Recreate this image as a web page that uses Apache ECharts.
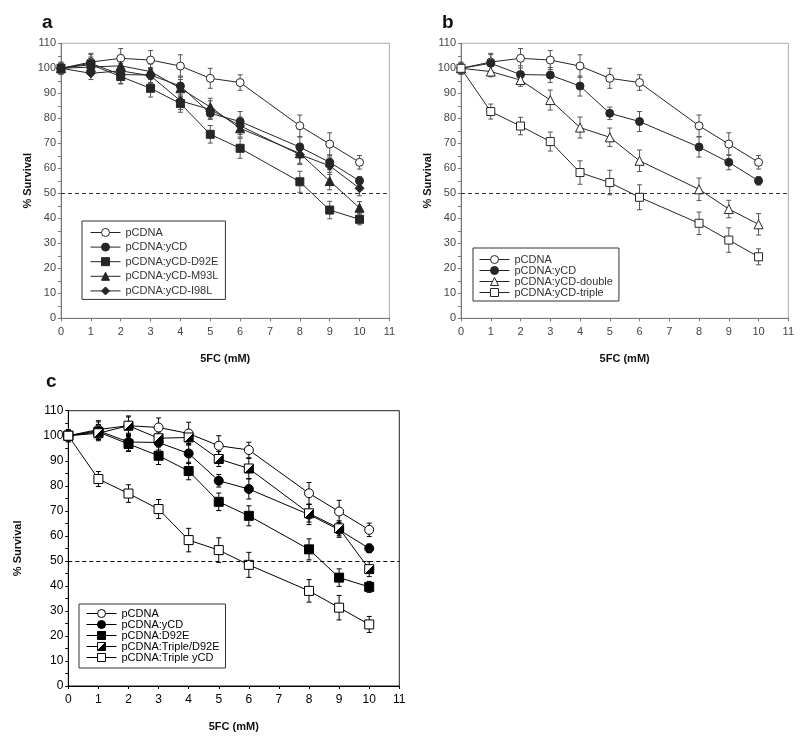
<!DOCTYPE html>
<html><head><meta charset="utf-8">
<script src="https://cdn.jsdelivr.net/npm/echarts@6/dist/echarts.min.js"></script>
<style>html,body{margin:0;padding:0;background:#fff}#c{width:806px;height:738px}</style>
</head><body><div id="c"></div>
<script>
// ---- data ----
const doses = [0, 1, 2, 3, 4, 5, 6, 8, 9, 10];               // 5FC (mM)
const yTickLabels = [0, 10, 20, 30, 40, 50, 60, 70, 80, 90, 100, 110];
const xTickLabels = [0, 1, 2, 3, 4, 5, 6, 7, 8, 9, 10, 11];
const threshold = 50;

const pcdna      = [100, 102.5, 104, 103.3, 100.9, 96, 94.3, 77, 69.7, 62.4];
const pcdnaErr   = [2.5, 3.5, 3.9, 3.8, 4.5, 4, 3.1, 4.3, 4.5, 2.7];
const ycd        = [100, 102, 97.5, 97.3, 92.9, 82, 78.7, 68.5, 62.4, 55];
const ycdErr     = [2, 3.5, 3.5, 3, 4, 2.5, 4, 4, 3, 1.7];
const d92e       = [100, 101.5, 96.7, 92, 85.9, 73.6, 68, 54.6, 43.3, 39.6];
const d92eErr    = [2, 3, 3, 3.5, 3.5, 3.5, 4, 4.2, 3.5, 2.2];
const m93l       = [100, 100.5, 101, 98.7, 92, 84.5, 76, 66, 54.9, 44.2];
const m93lErr    = [2, 3, 3, 3, 3.5, 3.5, 3.5, 4, 3.5, 2.5];
const i98l       = [100, 98, 99, 97, 87, 83.5, 77, 65.5, 61, 52];
const i98lErr    = [2, 2.5, 3, 3, 3.5, 3.5, 3.5, 4, 3.5, 3];
const double     = [100, 98.7, 95.3, 87.3, 76.3, 72.4, 63, 51.6, 43.7, 37.6];
const doubleErr  = [2, 2.1, 2.5, 4, 4.2, 3.7, 4.3, 4.5, 3.5, 4.3];
const triple     = [100, 82.7, 76.9, 70.7, 58.3, 54.3, 48.4, 38, 31.3, 24.6];
const tripleErr  = [2, 3, 3.5, 3.8, 4.7, 4.9, 5, 4.5, 4.9, 3.2];
const tripleD92e    = [100, 101, 104, 99, 99.3, 90.7, 86.9, 69, 63, 46.7];
const tripleD92eErr = [2, 3, 3.5, 2.5, 3, 3, 4, 3.5, 3, 3];

// ---- helpers ----
const FONT = '"Liberation Sans", Arial, Helvetica, sans-serif';
const pairs = vals => doses.map((d, i) => [d, vals[i]]);
const errData = (vals, errs) => doses.map((d, i) => [d, vals[i] - errs[i], vals[i] + errs[i]]);

function errSeries(idx, vals, errs, color) {
  return {
    type: 'custom', xAxisIndex: idx, yAxisIndex: idx, z: 1, silent: true,
    data: errData(vals, errs),
    renderItem: (params, api) => {
      const x = api.value(0);
      const t = api.coord([x, api.value(2)]);
      const b = api.coord([x, api.value(1)]);
      const w = 2.5;
      const st = { stroke: color, lineWidth: 1 };
      return { type: 'group', children: [
        { type: 'line', shape: { x1: t[0], y1: t[1], x2: b[0], y2: b[1] }, style: st },
        { type: 'line', shape: { x1: t[0] - w, y1: t[1], x2: t[0] + w, y2: t[1] }, style: st },
        { type: 'line', shape: { x1: b[0] - w, y1: b[1], x2: b[0] + w, y2: b[1] }, style: st }
      ]};
    }
  };
}
const halfFill = { type: 'linear', x: 0, y: 0, x2: 1, y2: 1, colorStops: [
  { offset: 0, color: '#fff' }, { offset: 0.5, color: '#fff' },
  { offset: 0.5, color: '#000' }, { offset: 1, color: '#000' }] };

function lineSeries(idx, key, vals, symbol, fill, stroke, size) {
  return {
    type: 'line', name: key, xAxisIndex: idx, yAxisIndex: idx, z: 2,
    data: pairs(vals), symbol: symbol, symbolSize: size, showAllSymbol: true,
    itemStyle: { color: fill, borderColor: stroke, borderWidth: 1 },
    lineStyle: { color: stroke, width: 1 },
    emphasis: { disabled: true }
  };
}

const series = [];
const A = '#262626', C = '#000';
const EA = '#555';
// panel a
[[pcdna, pcdnaErr], [ycd, ycdErr], [d92e, d92eErr], [m93l, m93lErr], [i98l, i98lErr]].forEach(p => series.push(errSeries(0, p[0], p[1], EA)));
series.push(lineSeries(0, 'a|pCDNA', pcdna, 'circle', '#fff', A, 8));
series.push(lineSeries(0, 'a|pCDNA:yCD', ycd, 'circle', A, A, 8));
series.push(lineSeries(0, 'a|pCDNA:yCD-D92E', d92e, 'rect', A, A, 8));
series.push(lineSeries(0, 'a|pCDNA:yCD-M93L', m93l, 'triangle', A, A, 9));
series.push(lineSeries(0, 'a|pCDNA:yCD-I98L', i98l, 'diamond', A, A, 9));
series[series.length - 1].markLine = { silent: true, symbol: 'none', label: { show: false },
  lineStyle: { type: [4, 3], color: '#333', width: 1 }, data: [{ yAxis: threshold }] };
// panel b
[[pcdna, pcdnaErr], [ycd, ycdErr], [double, doubleErr], [triple, tripleErr]].forEach(p => series.push(errSeries(1, p[0], p[1], EA)));
series.push(lineSeries(1, 'b|pCDNA', pcdna, 'circle', '#fff', A, 8));
series.push(lineSeries(1, 'b|pCDNA:yCD', ycd, 'circle', A, A, 8));
series.push(lineSeries(1, 'b|pCDNA:yCD-double', double, 'triangle', '#fff', A, 9));
series.push(lineSeries(1, 'b|pCDNA:yCD-triple', triple, 'rect', '#fff', A, 8));
series[series.length - 1].markLine = { silent: true, symbol: 'none', label: { show: false },
  lineStyle: { type: [4, 3], color: '#333', width: 1 }, data: [{ yAxis: threshold }] };
// panel c
[[pcdna, pcdnaErr], [ycd, ycdErr], [d92e, d92eErr], [tripleD92e, tripleD92eErr], [triple, tripleErr]].forEach(p => series.push(errSeries(2, p[0], p[1], C)));
series.push(lineSeries(2, 'c|pCDNA', pcdna, 'circle', '#fff', C, 9));
series.push(lineSeries(2, 'c|pCDNA:yCD', ycd, 'circle', C, C, 9));
series.push(lineSeries(2, 'c|pCDNA:D92E', d92e, 'rect', C, C, 9));
series.push(lineSeries(2, 'c|pCDNA:Triple/D92E', tripleD92e, 'rect', halfFill, C, 9));
series.push(lineSeries(2, 'c|pCDNA:Triple yCD', triple, 'rect', '#fff', C, 9));
series[series.length - 1].markLine = { silent: true, symbol: 'none', label: { show: false },
  lineStyle: { type: [4, 3], color: '#000', width: 1 }, data: [{ yAxis: threshold }] };

function xAxis(idx, col, lab, gap, fs) {
  return { type: 'value', gridIndex: idx, min: xTickLabels[0], max: xTickLabels[xTickLabels.length - 1], interval: 1,
    name: '5FC (mM)', nameLocation: 'middle', nameGap: gap,
    nameTextStyle: { fontFamily: FONT, fontSize: 11, fontWeight: 'bold', color: '#111' },
    axisLine: { lineStyle: { color: col, width: 1 } },
    axisTick: { show: true, length: 3, lineStyle: { color: col } },
    axisLabel: { fontFamily: FONT, fontSize: fs, color: lab, margin: 8 },
    splitLine: { show: false } };
}
function yAxis(idx, col, lab, gap, fs) {
  return { type: 'value', gridIndex: idx, min: yTickLabels[0], max: yTickLabels[yTickLabels.length - 1], interval: 10,
    name: '% Survival', nameLocation: 'middle', nameGap: gap, nameRotate: 90,
    nameTextStyle: { fontFamily: FONT, fontSize: 11, fontWeight: 'bold', color: '#111' },
    axisLine: { show: true, lineStyle: { color: col, width: 1 } },
    axisTick: { show: true, length: 3, lineStyle: { color: col } },
    minorTick: { show: true, splitNumber: 2, length: 3, lineStyle: { color: col } },
    axisLabel: { fontFamily: FONT, fontSize: fs, color: lab, margin: 5 },
    splitLine: { show: false } };
}
function legend(prefix, names, left, top, pad, gap, col) {
  return { orient: 'vertical', left: left, top: top, padding: pad, itemGap: gap,
    itemWidth: 30, itemHeight: 10, selectedMode: false,
    data: names.map(n => prefix + n), formatter: n => n.split('|')[1],
    borderColor: '#333', borderWidth: 1, backgroundColor: '#fff',
    itemStyle: { borderWidth: 1 }, lineStyle: { width: 1 },
    textStyle: { fontFamily: FONT, fontSize: 11, lineHeight: 11, color: col } };
}

const option = {
  animation: false,
  backgroundColor: '#fff',
  title: [
    { text: 'a', left: 42, top: 13, padding: 0, textStyle: { fontFamily: FONT, fontSize: 19, fontWeight: 'bold', color: '#111' } },
    { text: 'b', left: 442, top: 13, padding: 0, textStyle: { fontFamily: FONT, fontSize: 19, fontWeight: 'bold', color: '#111' } },
    { text: 'c', left: 46, top: 372, padding: 0, textStyle: { fontFamily: FONT, fontSize: 19, fontWeight: 'bold', color: '#111' } }
  ],
  grid: [
    { left: 61, top: 43.3, width: 328.4, height: 275, show: true, borderColor: '#aaa', borderWidth: 1, backgroundColor: 'transparent' },
    { left: 461, top: 43.3, width: 327.3, height: 275, show: true, borderColor: '#aaa', borderWidth: 1, backgroundColor: 'transparent' },
    { left: 68.3, top: 410.7, width: 331, height: 275.3, show: true, borderColor: '#222', borderWidth: 1, backgroundColor: 'transparent' }
  ],
  xAxis: [xAxis(0, '#777', '#444', 35, 11), xAxis(1, '#777', '#444', 35, 11), xAxis(2, '#000', '#000', 35, 12)],
  yAxis: [yAxis(0, '#777', '#444', 25, 11), yAxis(1, '#777', '#444', 25, 11), yAxis(2, '#000', '#000', 45, 12)],
  legend: [
    legend('a|', ['pCDNA', 'pCDNA:yCD', 'pCDNA:yCD-D92E', 'pCDNA:yCD-M93L', 'pCDNA:yCD-I98L'], 82, 221, [6, 7, 3, 8], 3.6, '#333'),
    legend('b|', ['pCDNA', 'pCDNA:yCD', 'pCDNA:yCD-double', 'pCDNA:yCD-triple'], 473, 248, [6, 6, 3, 6], 0, '#333'),
    legend('c|', ['pCDNA', 'pCDNA:yCD', 'pCDNA:D92E', 'pCDNA:Triple/D92E', 'pCDNA:Triple yCD'], 79, 604, [4, 6, 5, 7], 0, '#000')
  ],
  series: series
};
const chart = echarts.init(document.getElementById('c'));
chart.setOption(option);
</script>
</body></html>
